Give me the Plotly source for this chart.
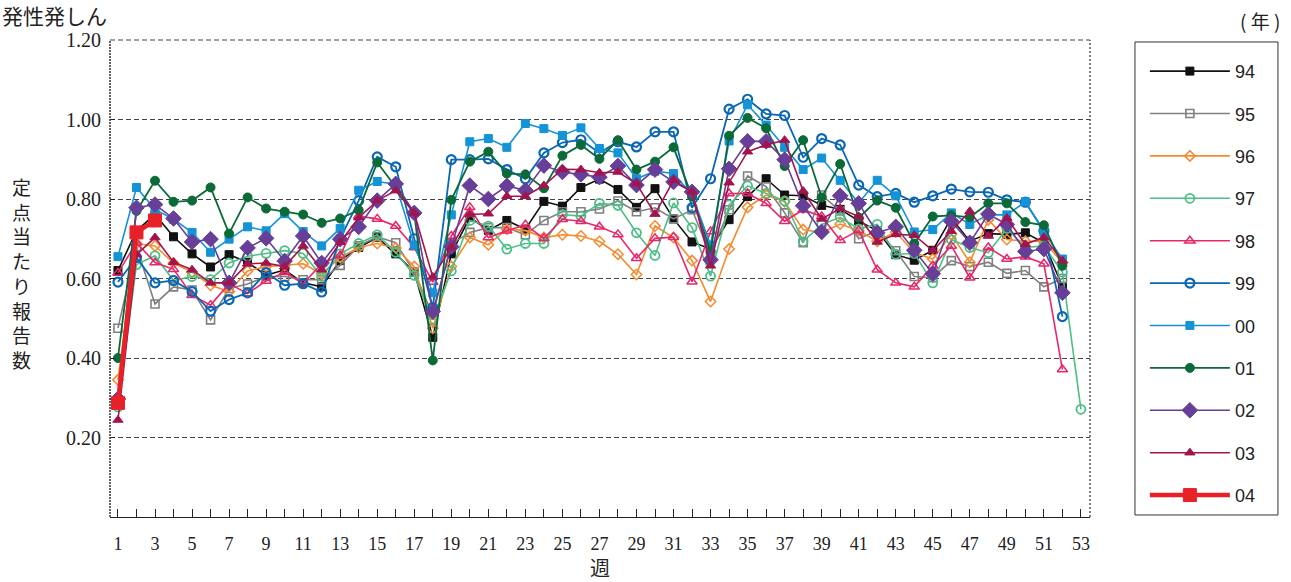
import plotly.graph_objects as go

weeks = list(range(1, 54))

y94 = [0.62, 0.72, 0.761, 0.705, 0.662, 0.629, 0.66, 0.641, 0.608, 0.622, 0.589, 0.579, 0.645, 0.678, 0.703, 0.662, 0.616, 0.452, 0.662, 0.754, 0.721, 0.746, 0.724, 0.794, 0.782, 0.829, 0.85, 0.824, 0.779, 0.826, 0.75, 0.692, 0.674, 0.748, 0.806, 0.851, 0.81, 0.808, 0.784, 0.774, 0.745, 0.72, 0.66, 0.646, 0.671, 0.752, 0.694, 0.713, 0.711, 0.715, 0.69, 0.58]
y95 = [0.475, 0.68, 0.536, 0.579, 0.571, 0.496, 0.575, 0.586, 0.605, 0.605, 0.597, 0.597, 0.633, 0.682, 0.705, 0.69, 0.616, 0.508, 0.687, 0.716, 0.728, 0.728, 0.71, 0.746, 0.768, 0.768, 0.775, 0.795, 0.768, 0.778, 0.75, 0.773, 0.66, 0.773, 0.858, 0.831, 0.765, 0.69, 0.81, 0.77, 0.70, 0.72, 0.67, 0.605, 0.602, 0.645, 0.63, 0.641, 0.613, 0.62, 0.579, 0.6]
y96 = [0.345, 0.688, 0.682, 0.639, 0.616, 0.583, 0.567, 0.619, 0.63, 0.633, 0.637, 0.612, 0.653, 0.678, 0.688, 0.677, 0.63, 0.475, 0.63, 0.703, 0.685, 0.724, 0.721, 0.703, 0.71, 0.707, 0.693, 0.661, 0.61, 0.732, 0.703, 0.645, 0.542, 0.674, 0.779, 0.81, 0.793, 0.723, 0.715, 0.737, 0.72, 0.694, 0.717, 0.665, 0.649, 0.711, 0.641, 0.748, 0.698, 0.694, 0.693, 0.64]
y97 = [0.277, 0.635, 0.657, 0.595, 0.605, 0.597, 0.639, 0.656, 0.663, 0.67, 0.663, 0.605, 0.662, 0.688, 0.71, 0.666, 0.608, 0.496, 0.619, 0.746, 0.732, 0.674, 0.688, 0.688, 0.761, 0.757, 0.789, 0.784, 0.715, 0.658, 0.79, 0.728, 0.606, 0.785, 0.833, 0.814, 0.795, 0.693, 0.736, 0.754, 0.725, 0.736, 0.661, 0.663, 0.589, 0.698, 0.678, 0.665, 0.726, 0.678, 0.682, 0.616, 0.271]
y98 = [0.614, 0.69, 0.64, 0.623, 0.558, 0.533, 0.587, 0.562, 0.594, 0.616, 0.587, 0.637, 0.658, 0.757, 0.75, 0.732, 0.678, 0.591, 0.707, 0.779, 0.703, 0.72, 0.735, 0.701, 0.749, 0.744, 0.73, 0.711, 0.651, 0.701, 0.704, 0.592, 0.718, 0.814, 0.814, 0.789, 0.744, 0.773, 0.756, 0.696, 0.721, 0.622, 0.589, 0.579, 0.632, 0.682, 0.602, 0.678, 0.649, 0.655, 0.637, 0.371]
y99 = [0.591, 0.653, 0.589, 0.595, 0.567, 0.518, 0.547, 0.564, 0.615, 0.583, 0.587, 0.566, 0.70, 0.796, 0.906, 0.881, 0.70, 0.527, 0.899, 0.899, 0.901, 0.874, 0.851, 0.916, 0.942, 0.949, 0.916, 0.944, 0.931, 0.969, 0.969, 0.778, 0.851, 1.026, 1.051, 1.014, 1.01, 0.905, 0.952, 0.936, 0.835, 0.806, 0.814, 0.792, 0.808, 0.825, 0.818, 0.817, 0.798, 0.792, 0.72, 0.504]
y00 = [0.655, 0.829, 0.774, 0.749, 0.716, 0.666, 0.699, 0.73, 0.72, 0.763, 0.718, 0.682, 0.726, 0.822, 0.844, 0.837, 0.684, 0.564, 0.76, 0.944, 0.952, 0.93, 0.99, 0.977, 0.96, 0.979, 0.927, 0.916, 0.851, 0.87, 0.864, 0.81, 0.684, 0.946, 1.037, 0.986, 0.93, 0.874, 0.903, 0.847, 0.79, 0.847, 0.808, 0.717, 0.723, 0.765, 0.736, 0.76, 0.76, 0.793, 0.717, 0.649]
y01 = [0.40, 0.77, 0.846, 0.793, 0.796, 0.829, 0.713, 0.804, 0.776, 0.768, 0.761, 0.74, 0.751, 0.772, 0.892, 0.83, 0.763, 0.394, 0.798, 0.894, 0.919, 0.864, 0.862, 0.827, 0.909, 0.936, 0.901, 0.948, 0.874, 0.894, 0.93, 0.806, 0.668, 0.959, 1.004, 0.978, 0.883, 0.948, 0.804, 0.888, 0.753, 0.796, 0.778, 0.688, 0.756, 0.759, 0.754, 0.789, 0.789, 0.742, 0.734, 0.632]
y02 = [0.297, 0.778, 0.786, 0.751, 0.692, 0.699, 0.589, 0.677, 0.701, 0.644, 0.707, 0.639, 0.699, 0.73, 0.796, 0.838, 0.765, 0.517, 0.68, 0.834, 0.80, 0.833, 0.822, 0.884, 0.868, 0.862, 0.855, 0.883, 0.835, 0.874, 0.843, 0.818, 0.647, 0.876, 0.945, 0.945, 0.899, 0.783, 0.717, 0.808, 0.789, 0.715, 0.73, 0.671, 0.612, 0.744, 0.69, 0.762, 0.736, 0.668, 0.674, 0.564]
y03 = [0.244, 0.66, 0.703, 0.641, 0.622, 0.589, 0.589, 0.637, 0.639, 0.63, 0.682, 0.622, 0.691, 0.753, 0.796, 0.821, 0.765, 0.604, 0.678, 0.761, 0.763, 0.807, 0.807, 0.834, 0.875, 0.874, 0.866, 0.868, 0.839, 0.762, 0.847, 0.818, 0.632, 0.841, 0.919, 0.936, 0.948, 0.82, 0.75, 0.776, 0.756, 0.692, 0.711, 0.709, 0.67, 0.719, 0.769, 0.707, 0.752, 0.686, 0.704, 0.645]
y04 = [0.287, 0.716, 0.746]

series_names = ["94", "95", "96", "97", "98", "99", "00", "01", "02", "03", "04"]
series_values = [y94, y95, y96, y97, y98, y99, y00, y01, y02, y03, y04]
colors = ["#111111", "#808080", "#F58A2E", "#4DBE87", "#E8266A", "#0A67B5", "#1493D6", "#0B6A37", "#673E98", "#A2144E", "#E82128"]
symbols = ["square", "square-open", "diamond-open", "circle-open", "triangle-up-open", "circle-open",
           "square", "circle", "diamond", "triangle-up", "square"]
msizes = [8, 8, 8, 9, 9, 9, 8, 9, 12, 9, 13]
lwidths = [1.6, 1.6, 1.6, 1.6, 1.6, 1.8, 1.6, 1.8, 1.6, 1.6, 4.5]
mlw = [1, 1.6, 1.5, 1.8, 1.5, 2.2, 1, 1, 1, 1, 1]

x_ticks = list(range(1, 54, 2))
y_ticks = [0.2, 0.4, 0.6, 0.8, 1.0, 1.2]

fig = go.Figure()
for i, (name, vals) in enumerate(zip(series_names, series_values)):
    fig.add_trace(go.Scatter(
        x=weeks[:len(vals)], y=vals, name=name, mode="lines+markers",
        legendgroup=name,
        line=dict(color=colors[i], width=lwidths[i]),
        marker=dict(symbol=symbols[i], size=msizes[i], color=colors[i],
                    line=dict(color=colors[i], width=mlw[i])),
    ))

fig.update_layout(
    width=1291, height=582, autosize=False,
    margin=dict(l=110, r=201, t=40, b=60, pad=0),
    plot_bgcolor="white", paper_bgcolor="white",
    font=dict(family="Liberation Serif", color="#222"),
    showlegend=True,
    legend=dict(
        x=1.056, y=0.973, xanchor="left", yanchor="top",
        borderwidth=0, bgcolor="rgba(0,0,0,0)",
        font=dict(family="Liberation Sans", size=18, color="#222"),
        tracegroupgap=16, itemwidth=80, maxheight=560,
    ),
    xaxis=dict(
        range=[0.57, 53.49], tickvals=x_ticks, ticktext=[str(v) for v in x_ticks],
        ticks="inside", ticklen=8, tickcolor="#222", tickwidth=1,
        minor=dict(tickvals=weeks, ticks="inside", ticklen=8, tickcolor="#222"),
        showgrid=False, zeroline=False, showline=True, linecolor="#222", linewidth=1,
        tickfont=dict(family="Liberation Serif", size=18),
        ticklabelstandoff=10,
        title=dict(text="週", font=dict(family="Noto Sans CJK JP", size=20), standoff=2),
    ),
    yaxis=dict(
        range=[0, 1.2], tickvals=y_ticks, ticktext=["%.2f" % v for v in y_ticks],
        ticks="inside", ticklen=5, tickcolor="#222",
        showgrid=True, gridcolor="#444", gridwidth=1, griddash="5px,3px",
        zeroline=False, showline=False,
        tickfont=dict(family="Liberation Serif", size=20),
        ticklabelstandoff=8,
    ),
    shapes=[
        dict(type="line", xref="paper", yref="paper", x0=0, x1=1, y0=1, y1=1,
             line=dict(color="#444", width=1, dash="5px,3px")),
        dict(type="line", xref="paper", yref="paper", x0=0, x1=0, y0=0, y1=1,
             line=dict(color="#333", width=1.5, dash="2px,1px")),
        dict(type="line", xref="paper", yref="paper", x0=1, x1=1, y0=0, y1=1,
             line=dict(color="#555", width=1.5, dash="2px,2px")),
        dict(type="rect", xref="paper", yref="paper", x0=1.0459, x1=1.1918, y0=0.0042, y1=0.9959,
             line=dict(color="#333", width=1), fillcolor="rgba(0,0,0,0)", layer="below"),
    ],
    annotations=[
        dict(text="発性発しん", xref="paper", yref="paper", x=-0.1122, y=1.0529,
             xanchor="left", yanchor="middle", showarrow=False,
             font=dict(family="Noto Sans CJK JP", size=21, color="#222")),
        dict(text="定<br>点<br>当<br>た<br>り<br>報<br>告<br>数", xref="paper", yref="paper",
             x=-0.09, y=0.512, xanchor="center", yanchor="middle", showarrow=False,
             font=dict(family="Noto Sans CJK JP", size=19, color="#222")),
        dict(text="( 年 )", xref="paper", yref="paper", x=1.196, y=1.04,
             xanchor="right", yanchor="middle", showarrow=False,
             font=dict(family="Noto Sans CJK JP", size=19, color="#222")),
    ],
)

fig.write_html("out.html", config={"displayModeBar": False},
               post_script="document.body.style.margin='0';")
